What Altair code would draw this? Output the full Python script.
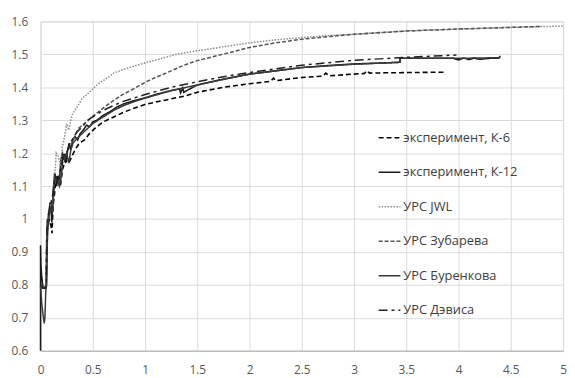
import altair as alt
import pandas as pd

# Series names (legend order)
names = ["эксперимент, К-6", "эксперимент, К-12", "УРС JWL",
         "УРС Зубарева", "УРС Буренкова", "УРС Дэвиса"]

k6_x = [0.02, 0.03, 0.045, 0.055, 0.06, 0.07, 0.085, 0.1, 0.11, 0.12, 0.135, 0.15, 0.17, 0.19, 0.21, 0.24,
        0.27, 0.3, 0.33, 0.37, 0.42, 0.47, 0.52, 0.6, 0.7, 0.8, 0.9, 1.0, 1.1, 1.25, 1.4, 1.5, 1.75, 2.0,
        2.2, 2.23, 2.25, 2.5, 2.7, 2.73, 2.76, 3.0, 3.1, 3.12, 3.15, 3.3, 3.6, 3.88]
k6_y = [0.8, 0.79, 0.79, 0.8, 0.95, 0.98, 1.0, 0.98, 0.957, 1.04, 1.08, 1.13, 1.11, 1.1, 1.15, 1.18,
        1.17, 1.19, 1.21, 1.23, 1.24, 1.26, 1.275, 1.295, 1.31, 1.325, 1.337, 1.348, 1.355, 1.365, 1.375,
        1.385, 1.4, 1.411, 1.418, 1.428, 1.42, 1.43, 1.434, 1.443, 1.435, 1.44, 1.442, 1.45, 1.443,
        1.444, 1.445, 1.446]

k12_x = [0, 0, 0.004, 0.01, 0.02, 0.03, 0.04, 0.05, 0.055, 0.06, 0.068, 0.075, 0.082, 0.09, 0.1, 0.108,
         0.115, 0.125, 0.135, 0.145, 0.155, 0.165, 0.18, 0.195, 0.21, 0.225, 0.24, 0.26, 0.275, 0.29, 0.31,
         0.33, 0.355, 0.38, 0.41, 0.44, 0.47, 0.5, 0.54, 0.6, 0.66, 0.73, 0.8, 0.9, 1.0, 1.1, 1.25, 1.33,
         1.34, 1.36, 1.37, 1.5, 1.75, 2.0, 2.25, 2.5, 2.75, 3.0, 3.2, 3.44, 3.44, 3.7, 3.95, 4.0, 4.05,
         4.1, 4.15, 4.2, 4.3, 4.38, 4.4]
k12_y = [0.6, 0.92, 0.86, 0.83, 0.8, 0.79, 0.79, 0.79, 0.8, 0.97, 1.0, 0.98, 1.02, 1.05, 1.04, 0.99,
         1.05, 1.1, 1.14, 1.12, 1.1, 1.13, 1.11, 1.18, 1.2, 1.19, 1.17, 1.21, 1.23, 1.21, 1.24,
         1.25, 1.24, 1.26, 1.27, 1.285, 1.28, 1.295, 1.3, 1.315, 1.325, 1.34, 1.35, 1.36, 1.368, 1.378,
         1.39, 1.395, 1.383, 1.398, 1.385, 1.407, 1.425, 1.44, 1.45, 1.46, 1.466, 1.471, 1.473, 1.476,
         1.488, 1.488, 1.488, 1.483, 1.489, 1.484, 1.489, 1.485, 1.488, 1.488, 1.495]

jwl_x = [0.04, 0.05, 0.058, 0.065, 0.08, 0.09, 0.11, 0.13, 0.15, 0.17, 0.19, 0.21, 0.23, 0.25, 0.27,
         0.29, 0.31, 0.35, 0.4, 0.45, 0.5, 0.55, 0.6, 0.7, 0.8, 0.9, 1.0, 1.15, 1.3, 1.5, 1.75, 2.0,
         2.25, 2.5, 2.75, 3.0, 3.25, 3.5, 3.75, 4.0, 4.25, 4.5, 4.75, 5.0]
jwl_y = [0.79, 0.8, 0.82, 1.0, 1.03, 1.04, 1.05, 1.1, 1.2, 1.19, 1.16, 1.22, 1.25, 1.29, 1.27,
         1.3, 1.322, 1.34, 1.367, 1.38, 1.395, 1.41, 1.42, 1.443, 1.455, 1.465, 1.474, 1.487, 1.5,
         1.511, 1.523, 1.535, 1.544, 1.551, 1.557, 1.561, 1.566, 1.571, 1.574, 1.577, 1.579, 1.582,
         1.584, 1.586]

zub_x = [0.02, 0.04, 0.055, 0.065, 0.08, 0.1, 0.12, 0.14, 0.16, 0.18, 0.2, 0.22, 0.25, 0.28, 0.31,
         0.34, 0.37, 0.42, 0.5, 0.56, 0.62, 0.7, 0.78, 0.9, 1.0, 1.1, 1.2, 1.38, 1.5, 1.69, 2.0, 2.25,
         2.5, 2.75, 3.0, 3.5, 4.0, 4.5, 4.8]
zub_y = [0.8, 0.79, 0.8, 0.99, 1.02, 1.04, 1.07, 1.13, 1.12, 1.11, 1.15, 1.19, 1.2, 1.22, 1.24,
         1.26, 1.277, 1.29, 1.312, 1.327, 1.342, 1.36, 1.377, 1.397, 1.415, 1.43, 1.443, 1.468, 1.481,
         1.496, 1.521, 1.535, 1.546, 1.554, 1.561, 1.571, 1.577, 1.582, 1.585]

bur_x = [0, 0.01, 0.02, 0.028, 0.035, 0.042, 0.05, 0.058, 0.065, 0.075, 0.09, 0.1, 0.115, 0.13, 0.145,
         0.16, 0.18, 0.2, 0.215, 0.23, 0.25, 0.27, 0.29, 0.31, 0.35, 0.4, 0.45, 0.5, 0.6, 0.7, 0.8, 0.9,
         1.0, 1.25, 1.5, 1.75, 2.0, 2.5, 3.0, 3.44, 3.44, 4.0, 4.4]
bur_y = [0.8, 0.75, 0.72, 0.7, 0.683, 0.7, 0.78, 0.8, 0.93, 1.0, 1.02, 1.03, 1.02, 1.1, 1.13,
         1.12, 1.1, 1.13, 1.19, 1.18, 1.2, 1.17, 1.21, 1.23, 1.245, 1.26, 1.275, 1.29, 1.31, 1.33,
         1.345, 1.357, 1.367, 1.39, 1.407, 1.424, 1.44, 1.46, 1.47, 1.476, 1.488, 1.488, 1.49]

dav_x = [0, 0.02, 0.04, 0.055, 0.062, 0.07, 0.085, 0.1, 0.12, 0.14, 0.16, 0.18, 0.2, 0.22, 0.24, 0.27,
         0.3, 0.35, 0.4, 0.45, 0.5, 0.6, 0.7, 0.8, 1.0, 1.25, 1.5, 1.75, 2.0, 2.5, 3.0, 3.5, 3.98]
dav_y = [0.8, 0.79, 0.79, 0.8, 0.98, 1.0, 1.03, 1.05, 1.08, 1.13, 1.12, 1.14, 1.16, 1.2, 1.19, 1.22,
         1.24, 1.265, 1.28, 1.3, 1.31, 1.33, 1.345, 1.358, 1.378, 1.4, 1.417, 1.432, 1.445, 1.467,
         1.482, 1.491, 1.498]

x_ticks = [0, 0.5, 1, 1.5, 2, 2.5, 3, 3.5, 4, 4.5, 5]
y_ticks = [0.6, 0.7, 0.8, 0.9, 1.0, 1.1, 1.2, 1.3, 1.4, 1.5, 1.6]

series = [(names[0], k6_x, k6_y), (names[1], k12_x, k12_y), (names[2], jwl_x, jwl_y),
          (names[3], zub_x, zub_y), (names[4], bur_x, bur_y), (names[5], dav_x, dav_y)]
rows = []
for name, xs, ys in series:
    for i, (xv, yv) in enumerate(zip(xs, ys)):
        rows.append({"s": name, "x": xv, "y": yv, "i": i})
df = pd.DataFrame(rows)

colors = ["#000000", "#1a1a1a", "#8c8c8c", "#555555", "#3a3a3a", "#202020"]
dashes = [[5, 3], [1, 0], [1.5, 1.5], [4, 2], [1, 0], [9, 4, 3, 4]]
widths = [1.6, 1.5, 1.2, 1.5, 1.3, 1.5]

FONT = "Open Sans"


def make_legend():
    return alt.Legend(title=None, orient="none", legendX=342, legendY=106,
                      symbolType="stroke", symbolSize=484, symbolStrokeWidth=1.5,
                      labelFontSize=13, labelFont=FONT, labelColor="#404040",
                      labelOffset=2, rowPadding=16, padding=0, symbolOffset=0,
                      labelLimit=300)


chart = alt.Chart(df).mark_line(interpolate="linear").encode(
    x=alt.X("x:Q", scale=alt.Scale(domain=[0, 5], nice=False, zero=False),
            axis=alt.Axis(values=x_ticks, format=".1~f", title=None, grid=True,
                          domain=True, domainColor="#b0b0b0", ticks=False,
                          labelPadding=14, labelFontSize=12, labelColor="#595959",
                          labelFont=FONT, gridColor="#d9d9d9", labelFlush=False)),
    y=alt.Y("y:Q", scale=alt.Scale(domain=[0.6, 1.6], nice=False, zero=False),
            axis=alt.Axis(values=y_ticks, format=".1~f", title=None, grid=True,
                          domain=False, ticks=False, labelPadding=13, labelFontSize=12,
                          labelColor="#595959", labelFont=FONT, gridColor="#d9d9d9")),
    color=alt.Color("s:N", scale=alt.Scale(domain=names, range=colors), legend=make_legend()),
    strokeDash=alt.StrokeDash("s:N", scale=alt.Scale(domain=names, range=dashes),
                              legend=make_legend()),
    strokeWidth=alt.StrokeWidth("s:N", scale=alt.Scale(domain=names, range=widths), legend=None),
    order=alt.Order("i:Q"),
).properties(
    width=530, height=334,
    autosize=alt.AutoSizeParams(type="none"),
    padding={"left": 33, "top": 11, "right": 4, "bottom": 23},
).configure_view(stroke=None).configure(background="white")

chart.save("out.html", embed_options={"renderer": "svg", "actions": False})
